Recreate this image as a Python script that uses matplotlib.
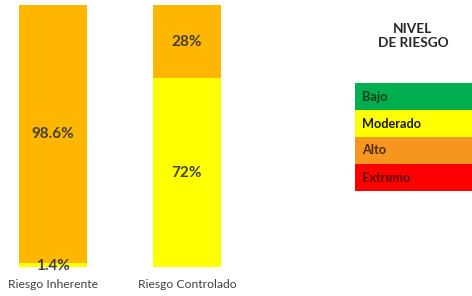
import matplotlib
matplotlib.use('Agg')
import matplotlib.pyplot as plt

categorias = ['Riesgo Inherente', 'Riesgo Controlado']
moderado = [1.4, 72]
alto = [98.6, 28]
etiquetas_moderado = ['1.4%', '72%']
etiquetas_alto = ['98.6%', '28%']

niveles = ['Bajo', 'Moderado', 'Alto', 'Extremo']
colores_niveles = ['#00B050', '#FFFF00', '#F7961E', '#FF0000']
texto_niveles = ['#0B3D1A', '#1A1A00', '#4A2A00', '#5A0000']

W, H = 472, 296
plt.rcParams['font.family'] = ['Lato', 'DejaVu Sans']
fig = plt.figure(figsize=(W / 100, H / 100), dpi=100)

# barras apiladas
ax = fig.add_axes([0, (H - 267) / H, 240 / W, 262 / H])
x = [0, 1]
ax.bar(x, moderado, width=0.51, color='#FFFF00')
ax.bar(x, alto, width=0.51, bottom=moderado, color='#FFB600')
ax.set_xlim(-53 / 134, (240 - 53) / 134)
ax.set_ylim(0, 100)
ax.axis('off')

for i in x:
    ax.text(i, moderado[i] / 2 if moderado[i] > 5 else 0.4, etiquetas_moderado[i],
            ha='center', va='center', fontsize=11, fontweight='bold', color='#404040')
    ax.text(i, moderado[i] + alto[i] / 2, etiquetas_alto[i],
            ha='center', va='center', fontsize=11, fontweight='bold', color='#404040')
    ax.text(i, -6.5, categorias[i], ha='center', va='center', fontsize=8.7, color='#404040')

# titulo de la leyenda
fig.text(413 / W, 1 - 36 / H, 'NIVEL\nDE RIESGO', ha='center', va='center',
         fontsize=9.8, fontweight='bold', color='#262626', linespacing=1.15)

# tabla de niveles
lg = fig.add_axes([355 / W, (H - 191) / H, (W - 355) / W, 108 / H])
pos = list(range(len(niveles)))
lg.barh(pos, [1] * len(niveles), height=1, left=0, color=colores_niveles)
for p, nombre, c in zip(pos, niveles, texto_niveles):
    lg.text(0.06, p, nombre, ha='left', va='center', fontsize=9.2,
            fontweight='bold', color=c)
lg.set_xlim(0, 1)
lg.set_ylim(len(niveles) - 0.5, -0.5)
lg.axis('off')

fig.savefig('out.png', dpi=100)
